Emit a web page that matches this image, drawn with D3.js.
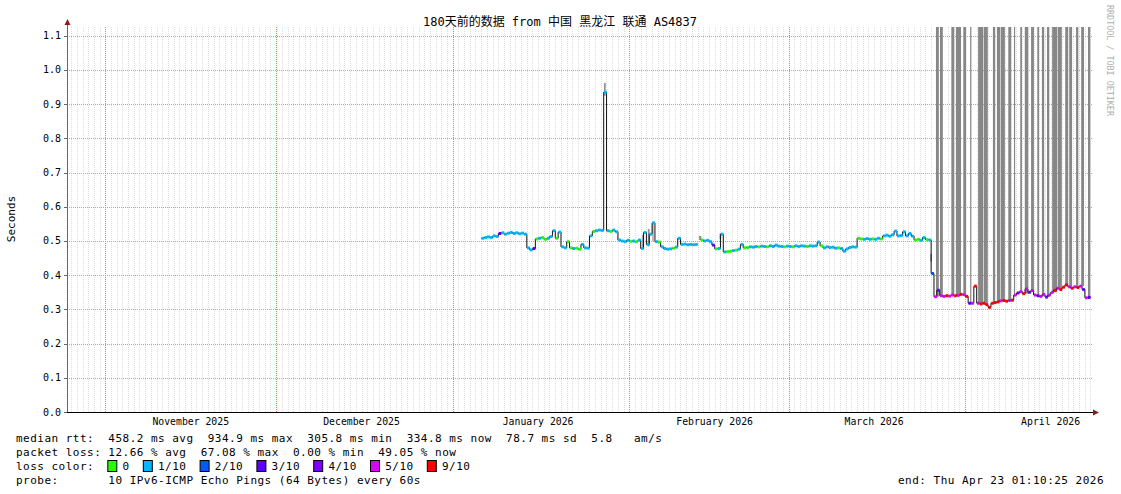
<!DOCTYPE html>
<html>
<head>
<meta charset="utf-8">
<script src="https://cdn.jsdelivr.net/npm/d3@7"></script>
<style>
body { margin: 0; background: #fff; }
svg { display: block; }
text { font-family: "DejaVu Sans Mono", "Noto Sans CJK SC", monospace; fill: #000; }
</style>
</head>
<body>
<div id="chart"></div>
<script>
// chart window: 180 days ending at the "end" time
var chartStart = Date.UTC(2025, 9, 25, 6, 30);
var chartDays = 180;

// median rtt samples (seconds), one every half day from day 72.75 of the window
var medianStartDay = 72.75;
var medianStepDays = 0.5;
var medianRtt = [
	0.508, 0.510, 0.512, 0.510, 0.515, 0.513, 0.522, 0.524, 0.520, 0.523, 0.525, 0.522, 0.524, 0.521, 0.523, 0.520,
	0.480, 0.474, 0.478, 0.506, 0.508, 0.510, 0.505, 0.508, 0.513, 0.530, 0.508, 0.526, 0.483, 0.480, 0.498, 0.480,
	0.478, 0.479, 0.476, 0.490, 0.480, 0.479, 0.515, 0.528, 0.530, 0.532, 0.531, 0.935, 0.530, 0.528, 0.532, 0.527,
	0.503, 0.500, 0.498, 0.502, 0.499, 0.500, 0.498, 0.503, 0.478, 0.525, 0.490, 0.520, 0.553, 0.498, 0.497, 0.483,
	0.478, 0.476, 0.477, 0.479, 0.482, 0.508, 0.490, 0.491, 0.489, 0.490, 0.489, 0.490, null, 0.503, 0.500, 0.502,
	0.498, 0.488, 0.477, 0.478, 0.520, 0.468, 0.469, 0.470, 0.472, 0.473, 0.476, 0.490, 0.480, 0.481, 0.483, 0.482,
	0.484, 0.483, 0.485, 0.484, 0.483, 0.486, 0.484, 0.488, 0.485, 0.484, 0.483, 0.485, 0.484, 0.483, 0.486, 0.484,
	0.486, 0.485, 0.484, 0.486, 0.485, 0.486, 0.497, 0.486, 0.480, 0.483, 0.481, 0.482, 0.479, 0.480, 0.478, 0.470,
	0.477, 0.481, 0.483, 0.482, 0.508, 0.506, 0.505, 0.507, 0.505, 0.506, 0.505, 0.508, 0.506, 0.515, 0.517, 0.514,
	0.518, 0.529, 0.515, 0.516, 0.527, 0.515, 0.522, 0.514, 0.503, 0.505, 0.502, 0.510, 0.504, 0.503, 0.405, 0.337,
	0.356, 0.340, 0.338, 0.340, 0.339, 0.342, 0.340, 0.341, 0.344, 0.343, 0.338, 0.318, 0.318, 0.368, 0.318, 0.316,
	0.318, 0.314, 0.306, 0.318, 0.320, 0.322, 0.325, 0.326, 0.324, 0.326, 0.327, 0.342, 0.348, 0.352, 0.346, 0.360,
	0.350, 0.355, 0.342, 0.340, 0.338, 0.344, 0.336, 0.342, 0.350, 0.356, 0.362, 0.358, 0.365, 0.372, 0.366, 0.362,
	0.366, 0.364, 0.368, 0.358, 0.334, 0.335
];
// lost pings out of 10 for each sample
var lossTenths = [
	1, 1, 1, 1, 1, 1, 3, 1, 1, 1, 1, 1, 1, 1, 1, 1,
	1, 1, 3, 0, 1, 0, 0, 1, 1, 1, 0, 1, 1, 1, 0, 0,
	1, 0, 0, 1, 1, 1, 1, 0, 1, 1, 1, 1, 1, 0, 1, 1,
	1, 1, 1, 1, 0, 1, 0, 1, 1, 1, 1, 1, 1, 1, 0, 1,
	1, 1, 1, 0, 1, 1, 1, 1, 1, 1, 1, 1, 0, 0, 1, 1,
	1, 3, 0, 1, 1, 1, 0, 0, 1, 0, 1, 1, 0, 0, 1, 1,
	1, 0, 1, 1, 0, 1, 1, 1, 1, 1, 0, 1, 1, 0, 1, 1,
	1, 1, 0, 1, 1, 1, 1, 0, 1, 1, 1, 1, 1, 0, 1, 1,
	1, 1, 1, 1, 0, 0, 1, 1, 1, 0, 1, 1, 0, 1, 1, 1,
	1, 1, 1, 1, 1, 1, 1, 1, 0, 0, 1, 1, 0, 1, 2, 5,
	3, 5, 5, 9, 5, 5, 9, 5, 9, 5, 9, 3, 5, 9, 5, 9,
	9, 9, 9, 9, 9, 9, 5, 9, 9, 5, 9, 5, 3, 5, 9, 5,
	3, 5, 5, 3, 5, 5, 3, 5, 5, 9, 5, 9, 9, 9, 5, 9,
	5, 9, 5, 3, 5, 3
];

// smoke bars reaching past the top of the graph (day of window, from / to)
var smokeFrom = [152.6, 153.3, 155.3, 156.1, 157.4, 158.6, 160.0, 161.0, 162.6, 163.3, 164.0, 165.3, 166.3,
	167.4, 168.2, 169.3, 170.4, 171.2, 172.1, 173.0, 174.0, 175.3, 176.0, 177.2, 178.1, 179.3];
var smokeTo = [153.1, 153.8, 155.8, 157.0, 157.9, 158.8, 160.9, 161.7, 163.0, 163.9, 164.7, 165.8, 166.5,
	167.7, 168.8, 169.8, 170.7, 171.6, 172.5, 173.9, 174.7, 175.8, 176.5, 177.6, 178.6, 179.7];
var smokeTop = 1.2;

// smaller smoke patches: day from, day to, low, high (seconds)
var smearFrom = [94.3, 101.0, 102.0, 102.8, 111.0, 114.6, 151.6];
var smearTo = [94.6, 101.3, 102.3, 103.0, 111.4, 114.9, 151.9];
var smearLow = [0.925, 0.480, 0.484, 0.500, 0.503, 0.505, 0.440];
var smearHigh = [0.962, 0.518, 0.535, 0.550, 0.515, 0.522, 0.462];

var lossSteps = [0, 1, 2, 3, 4, 5, 9];
var lossNames = ["0", "1/10", "2/10", "3/10", "4/10", "5/10", "9/10"];
var lossColors = ["#26ff00", "#00b8ff", "#0059ff", "#5e00ff", "#7e00ff", "#dd00ff", "#ff0000"];

var titleText = "180天前的数据 from 中国 黑龙江 联通 AS4837";
var legendLines = [
	"median rtt:  458.2 ms avg  934.9 ms max  305.8 ms min  334.8 ms now  78.7 ms sd  5.8   am/s",
	"packet loss: 12.66 % avg  67.08 % max  0.00 % min  49.05 % now",
	"loss color:",
	"probe:       10 IPv6-ICMP Echo Pings (64 Bytes) every 60s"
];
var endText = "end: Thu Apr 23 01:10:25 2026";

var width = 1121, height = 494;
var plotLeft = 67, plotRight = 1092, plotTop = 27, plotBottom = 412;
var DAY = 86400000;

function dayToDate(d) { return new Date(chartStart + d * DAY); }

var x = d3.scaleUtc().domain([dayToDate(0), dayToDate(chartDays)]).range([plotLeft, plotRight]);
var y = d3.scaleLinear().domain([0, 1.1228]).range([plotBottom, 28]);

var svg = d3.select("#chart").append("svg").attr("width", width).attr("height", height);

svg.append("defs").append("clipPath").attr("id", "plot")
	.append("rect").attr("x", plotLeft).attr("y", plotTop)
	.attr("width", plotRight - plotLeft).attr("height", plotBottom - plotTop);

// grid
var grid = svg.append("g").attr("shape-rendering", "crispEdges");
var days = d3.utcDay.range(x.domain()[0], x.domain()[1]);
var months = d3.utcMonth.range(x.domain()[0], x.domain()[1]);
function px(v) { return Math.round(v) + 0.5; }
grid.selectAll(".minor").data(days.filter(function(d) { return d.getUTCDate() !== 1; })).enter().append("line")
	.attr("x1", function(d) { return px(x(d)); })
	.attr("x2", function(d) { return px(x(d)); })
	.attr("y1", plotTop).attr("y2", plotBottom)
	.attr("stroke", "#dedede").attr("stroke-dasharray", "1,1");
grid.selectAll(".hgrid").data(y.ticks(11).filter(function(v) { return v > 0; })).enter().append("line")
	.attr("x1", plotLeft).attr("x2", plotRight)
	.attr("y1", function(d) { return px(y(d)); })
	.attr("y2", function(d) { return px(y(d)); })
	.attr("stroke", "#e49292").attr("stroke-dasharray", "1,1");
grid.selectAll(".major").data(months).enter().append("line")
	.attr("x1", function(d) { return px(x(d)); })
	.attr("x2", function(d) { return px(x(d)); })
	.attr("y1", plotTop).attr("y2", plotBottom)
	.attr("stroke", "#ff7070").attr("stroke-dasharray", "1,1");

// data
var samples = medianRtt.map(function(v, i) {
	var d = medianStartDay + i * medianStepDays;
	return { t0: dayToDate(d), t1: dayToDate(d + medianStepDays), v: v, loss: lossTenths[i] };
});

function medianAt(day) {
	var i = Math.floor((day - medianStartDay) / medianStepDays);
	i = Math.max(0, Math.min(samples.length - 1, i));
	return samples[i].v;
}

var plot = svg.append("g").attr("clip-path", "url(#plot)");

plot.selectAll(".smoke").data(smokeFrom).enter().append("rect")
	.attr("x", function(d) { return x(dayToDate(d)); })
	.attr("width", function(d, i) { return x(dayToDate(smokeTo[i])) - x(dayToDate(d)); })
	.attr("y", y(smokeTop))
	.attr("height", function(d) { return y(medianAt(d)) - y(smokeTop); })
	.attr("fill", "#878787");

plot.selectAll(".smear").data(smearFrom).enter().append("rect")
	.attr("x", function(d) { return x(dayToDate(d)); })
	.attr("width", function(d, i) { return x(dayToDate(smearTo[i])) - x(dayToDate(d)); })
	.attr("y", function(d, i) { return y(smearHigh[i]); })
	.attr("height", function(d, i) { return y(smearLow[i]) - y(smearHigh[i]); })
	.attr("fill", "#909090");

var stepPts = [];
samples.forEach(function(s) {
	stepPts.push({ t: s.t0, v: s.v });
	stepPts.push({ t: s.t1, v: s.v });
});
var line = d3.line()
	.defined(function(d) { return d.v != null; })
	.x(function(d) { return x(d.t); })
	.y(function(d) { return y(d.v); });
plot.append("path").attr("d", line(stepPts))
	.attr("fill", "none").attr("stroke", "#111").attr("stroke-width", 1);

// loss coloured median, drawn over the black step line
plot.selectAll(".loss").data(samples.filter(function(s) { return s.v != null; })).enter().append("line")
	.attr("x1", function(d) { return x(d.t0) + 0.3; })
	.attr("x2", function(d) { return x(d.t1); })
	.attr("y1", function(d) { return y(d.v); })
	.attr("y2", function(d) { return y(d.v); })
	.attr("stroke-width", 3)
	.attr("stroke", function(d) { return lossColors[lossSteps.indexOf(d.loss)]; });

// axes
svg.append("line").attr("x1", plotLeft + 0.5).attr("x2", plotLeft + 0.5).attr("y1", 24).attr("y2", plotBottom)
	.attr("stroke", "#666");
svg.append("line").attr("x1", plotLeft - 3).attr("x2", plotRight + 3)
	.attr("y1", plotBottom + 0.5).attr("y2", plotBottom + 0.5).attr("stroke", "#000");
svg.append("path").attr("d", "M" + (plotLeft - 2.5) + ",25 L" + (plotLeft + 3.5) + ",25 L" + (plotLeft + 0.5) + ",19 Z")
	.attr("fill", "#8b1c1c");
svg.append("path").attr("d", "M" + (plotRight + 1) + "," + (plotBottom - 2.5) + " L" + (plotRight + 1) + "," +
	(plotBottom + 3.5) + " L" + (plotRight + 7) + "," + (plotBottom + 0.5) + " Z").attr("fill", "#8b1c1c");

var yTicks = y.ticks(11);
svg.selectAll(".ytick").data(yTicks).enter().append("line")
	.attr("x1", plotLeft - 3).attr("x2", plotLeft)
	.attr("y1", function(d) { return px(y(d)); })
	.attr("y2", function(d) { return px(y(d)); })
	.attr("stroke", "#666");
svg.selectAll(".ylabel").data(yTicks).enter().append("text")
	.attr("x", plotLeft - 6).attr("y", function(d) { return y(d) + 3.5; })
	.attr("text-anchor", "end").style("font-size", "10px")
	.text(d3.format(".1f"));

// month labels sit half a month after the month start
svg.selectAll(".xlabel").data(months.concat([d3.utcMonth.floor(x.domain()[0])])
		.map(function(d) { return new Date(+d + 15 * DAY); })
		.filter(function(d) { return d > x.domain()[0] && d < x.domain()[1]; }))
	.enter().append("text")
	.attr("x", function(d) { return x(d); }).attr("y", 425)
	.attr("text-anchor", "middle").style("font-size", "9.8px")
	.text(function(d) { return d3.utcFormat("%B %Y")(new Date(+d - 15 * DAY)); });

// titles
svg.append("text").attr("x", 560).attr("y", 26).attr("text-anchor", "middle")
	.style("font-size", "12px").text(titleText);
svg.append("text").attr("transform", "translate(15,219) rotate(-90)").attr("text-anchor", "middle")
	.style("font-size", "11px").text("Seconds");
svg.append("text").attr("transform", "translate(1107,5) rotate(90)")
	.style("font-size", "8.4px").style("fill", "#b0b0b0").text("RRDTOOL / TOBI OETIKER");

// legend
var charW = 7.1;
var legend = svg.append("g").style("font-size", "11px").style("letter-spacing", "0.48px");
legendLines.forEach(function(s, i) {
	legend.append("text").attr("x", 16).attr("y", 442 + i * 14)
		.attr("xml:space", "preserve").style("white-space", "pre").text(s);
});
var col = 13;
lossNames.forEach(function(name, i) {
	legend.append("rect").attr("x", 16 + col * charW - 0.5).attr("y", 460.5).attr("width", 9).attr("height", 11)
		.attr("fill", lossColors[i]).attr("stroke", "#000");
	legend.append("text").attr("x", 16 + (col + 2) * charW).attr("y", 470).text(name);
	col += 2 + name.length + 2;
});
legend.append("text").attr("x", 1104).attr("y", 484).attr("text-anchor", "end").text(endText);
</script>
</body>
</html>
